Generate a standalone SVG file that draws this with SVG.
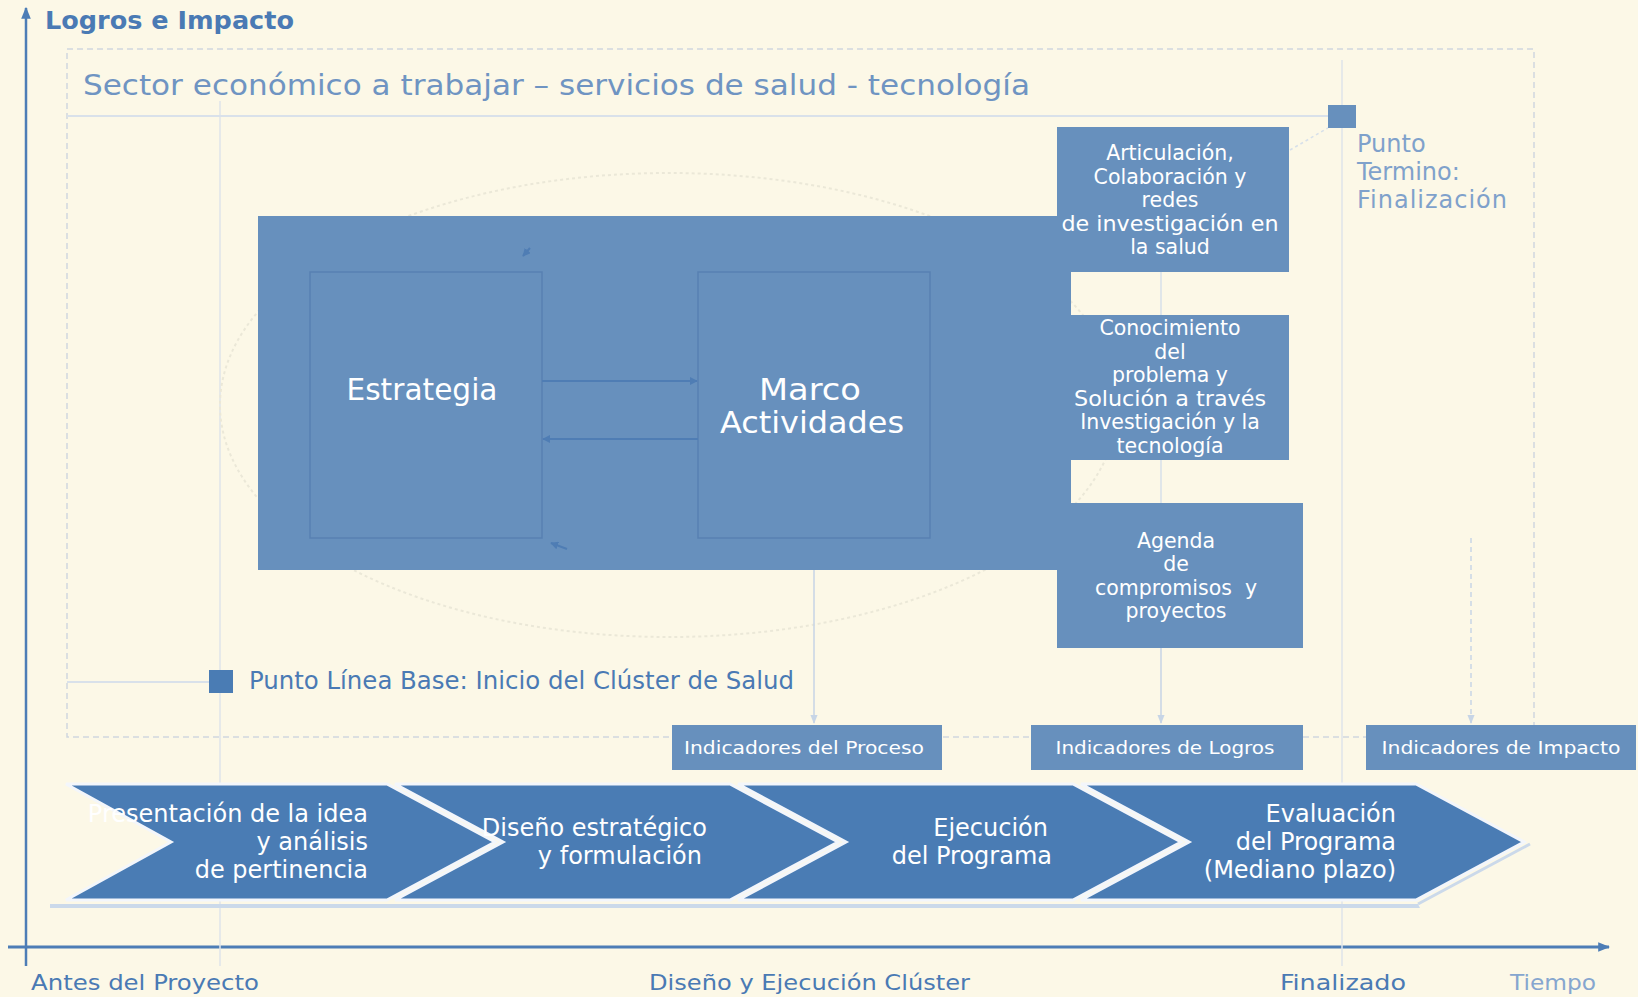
<svg xmlns="http://www.w3.org/2000/svg" width="1638" height="997" viewBox="0 0 1638 997">
<defs>
<style>
.bg{fill:#fcf8e7}
.box{fill:#6790bd}
.inner{fill:#6790bd;stroke:#5880b2;stroke-width:1.5}
.chev{fill:#4a7cb4;stroke:#f3f6fb;stroke-width:3}
.chevsh{fill:#cbd9ea}
.faint{stroke:#dfe4ea;stroke-width:1.5;fill:none}
.gothic{font-family:"DejaVu Sans",Lato,sans-serif}
.tah{font-family:"DejaVu Sans Condensed","DejaVu Sans",sans-serif}
.tahw{font-family:"DejaVu Sans",sans-serif}
.wt{fill:#ffffff}
.btxt{font-size:20.5px;fill:#ffffff;text-anchor:middle}
.ctxt{font-size:24px;fill:#ffffff;text-anchor:end}
.ind{font-size:18px;fill:#ffffff;text-anchor:middle}
.axl{font-size:22px;fill:#4a7ab4}
</style>
<marker id="ah" viewBox="0 0 10 10" refX="9" refY="5" markerWidth="8" markerHeight="8" orient="auto-start-reverse" markerUnits="userSpaceOnUse"><path d="M0,0L10,5L0,10z" fill="#4f7db4"/></marker>
<marker id="al" viewBox="0 0 10 10" refX="9" refY="5" markerWidth="9" markerHeight="9" orient="auto" markerUnits="userSpaceOnUse"><path d="M0,1L10,5L0,9z" fill="#c7d5e6"/></marker>
<marker id="ax" viewBox="0 0 10 10" refX="9" refY="5" markerWidth="12" markerHeight="12" orient="auto" markerUnits="userSpaceOnUse"><path d="M0,1L10,5L0,9z" fill="#4d7db6"/></marker>
</defs>
<rect class="bg" x="0" y="0" width="1638" height="997"/>

<g id="axes">
<line x1="26" y1="966" x2="26" y2="8" stroke="#4d7db6" stroke-width="2.5" marker-end="url(#ax)"/>
<line x1="8" y1="947" x2="1609" y2="947" stroke="#4d7db6" stroke-width="3" marker-end="url(#ax)"/>
<text class="tah" x="45" y="29" font-size="25" font-weight="bold" fill="#4a7ab4" textLength="249" lengthAdjust="spacingAndGlyphs">Logros e Impacto</text>
<text class="tah axl" x="31" y="990" textLength="228" lengthAdjust="spacingAndGlyphs">Antes del Proyecto</text>
<text class="tah axl" x="649" y="990" textLength="321" lengthAdjust="spacingAndGlyphs">Diseño y Ejecución Clúster</text>
<text class="tah axl" x="1280" y="990" textLength="126" lengthAdjust="spacingAndGlyphs">Finalizado</text>
<text class="gothic" x="1510" y="990" font-size="22" fill="#86a6cf" textLength="86" lengthAdjust="spacingAndGlyphs">Tiempo</text>
</g>

<g id="frame">
<rect x="67" y="49" width="1467" height="688" fill="none" stroke="#cfd6df" stroke-width="1.5" stroke-dasharray="6,4"/>
<line class="faint" x1="220" y1="101" x2="220" y2="966"/>
<line class="faint" x1="1342" y1="60" x2="1342" y2="966"/>
<line x1="67" y1="116" x2="1329" y2="116" stroke="#d9e1ea" stroke-width="2"/>
<ellipse cx="669" cy="405" rx="449" ry="232" fill="none" stroke="#ebe8d8" stroke-width="2" stroke-dasharray="3,3"/>
<text class="gothic" x="83" y="95" font-size="28" fill="#6f94c2" textLength="947" lengthAdjust="spacingAndGlyphs">Sector económico a trabajar – servicios de salud - tecnología</text>
</g>

<g id="punto-termino">
<rect x="1328" y="105" width="28" height="23" fill="#6790bd"/>
<text class="gothic" font-size="24" fill="#7fa1cb"><tspan x="1357" y="152">Punto</tspan><tspan x="1357" y="180">Termino:</tspan><tspan x="1357" y="208" textLength="150" lengthAdjust="spacing">Finalización</tspan></text>
</g>

<g id="linea-base">
<line x1="67" y1="682" x2="209" y2="682" stroke="#d9e1ea" stroke-width="2"/>
<rect x="209" y="670" width="24" height="23" fill="#4a7cb4"/>
<text class="tah" x="249" y="689" font-size="24" fill="#4a7ab4" textLength="545" lengthAdjust="spacingAndGlyphs">Punto Línea Base: Inicio del Clúster de Salud</text>
</g>

<g id="marco-grande">
<rect class="box" x="258" y="216" width="813" height="354"/>
</g>

<g id="estrategia">
<rect class="inner" x="310" y="272" width="232" height="266"/>
<text class="gothic wt" x="422" y="400" font-size="30" text-anchor="middle" textLength="151" lengthAdjust="spacingAndGlyphs">Estrategia</text>
</g>

<g id="marco-actividades">
<rect class="inner" x="698" y="272" width="232" height="266"/>
<text class="gothic wt" font-size="30" text-anchor="middle"><tspan x="810" y="400" textLength="102" lengthAdjust="spacingAndGlyphs">Marco</tspan><tspan x="812" y="433" textLength="184" lengthAdjust="spacingAndGlyphs">Actividades</tspan></text>
</g>

<g id="articulacion">
<rect class="box" x="1057" y="127" width="232" height="145"/>
<text class="gothic btxt"><tspan x="1170" y="160">Articulación,</tspan><tspan x="1170" y="184">Colaboración y</tspan><tspan x="1170" y="207">redes</tspan><tspan x="1170" y="231" textLength="217" lengthAdjust="spacingAndGlyphs">de investigación en</tspan><tspan x="1170" y="254">la salud</tspan></text>
</g>

<g id="conocimiento">
<rect class="box" x="1057" y="315" width="232" height="145"/>
<text class="gothic btxt"><tspan x="1170" y="335">Conocimiento</tspan><tspan x="1170" y="359">del</tspan><tspan x="1170" y="382">problema y</tspan><tspan x="1170" y="406" textLength="192" lengthAdjust="spacingAndGlyphs">Solución a través</tspan><tspan x="1170" y="429">Investigación y la</tspan><tspan x="1170" y="453">tecnología</tspan></text>
</g>

<g id="agenda">
<rect class="box" x="1057" y="503" width="246" height="145"/>
<text class="gothic btxt"><tspan x="1176" y="548">Agenda</tspan><tspan x="1176" y="571">de</tspan><tspan x="1176" y="595" xml:space="preserve">compromisos  y</tspan><tspan x="1176" y="618">proyectos</tspan></text>
</g>

<g id="ind-proceso">
<rect class="box" x="672" y="725" width="270" height="45"/>
<text class="gothic ind" x="804" y="754" textLength="240" lengthAdjust="spacingAndGlyphs">Indicadores del Proceso</text>
</g>
<g id="ind-logros">
<rect class="box" x="1031" y="725" width="272" height="45"/>
<text class="gothic ind" x="1165" y="754" textLength="219" lengthAdjust="spacingAndGlyphs">Indicadores de Logros</text>
</g>
<g id="ind-impacto">
<rect class="box" x="1366" y="725" width="270" height="45"/>
<text class="gothic ind" x="1501" y="754" textLength="239" lengthAdjust="spacingAndGlyphs">Indicadores de Impacto</text>
</g>

<g id="connectors">
<line x1="542" y1="381" x2="697" y2="381" stroke="#4f7db4" stroke-width="2" marker-end="url(#ah)"/>
<line x1="698" y1="439" x2="543" y2="439" stroke="#4f7db4" stroke-width="2" marker-end="url(#ah)"/>
<path d="M530,248 L523,256" stroke="#4f7db4" stroke-width="2" fill="none" marker-end="url(#ah)"/>
<path d="M567,549 L551,543" stroke="#4f7db4" stroke-width="2" fill="none" marker-end="url(#ah)"/>
<line x1="814" y1="570" x2="814" y2="723" stroke="#c7d5e6" stroke-width="1.5" marker-end="url(#al)"/>
<line x1="1161" y1="272" x2="1161" y2="315" stroke="#d7e0ea" stroke-width="1.5"/>
<line x1="1161" y1="460" x2="1161" y2="503" stroke="#d7e0ea" stroke-width="1.5"/>
<line x1="1161" y1="648" x2="1161" y2="723" stroke="#c7d5e6" stroke-width="1.5" marker-end="url(#al)"/>
<line x1="1471" y1="538" x2="1471" y2="723" stroke="#c7d5e6" stroke-width="1.5" stroke-dasharray="5,4" marker-end="url(#al)"/>
<line x1="1290" y1="150" x2="1328" y2="128" stroke="#d7e0ea" stroke-width="1.5" stroke-dasharray="3,3"/>
</g>

<g id="chevrons-shadow">
<polygon class="chevsh" points="50,904 1418,904 1420,908 50,908"/>
<line x1="1418" y1="904" x2="1530" y2="844" stroke="#cbd9ea" stroke-width="3"/>
</g>

<g id="fase-1">
<polygon class="chev" points="66,784 387,784 495,842 387,900 66,900 171,842"/>
<text class="tahw ctxt"><tspan x="368" y="822">Presentación de la idea</tspan><tspan x="368" y="850">y análisis</tspan><tspan x="368" y="878">de pertinencia</tspan></text>
</g>
<g id="fase-2">
<polygon class="chev" points="395,784 730,784 838,842 730,900 395,900 503,842"/>
<text class="tahw ctxt"><tspan x="707" y="836">Diseño estratégico</tspan><tspan x="702" y="864">y formulación</tspan></text>
</g>
<g id="fase-3">
<polygon class="chev" points="738,784 1073,784 1181,842 1073,900 738,900 846,842"/>
<text class="tahw ctxt"><tspan x="1048" y="836">Ejecución</tspan><tspan x="1052" y="864">del Programa</tspan></text>
</g>
<g id="fase-4">
<polygon class="chev" points="1081,784 1416,784 1524,842 1416,900 1081,900 1189,842"/>
<text class="tahw ctxt"><tspan x="1396" y="822">Evaluación</tspan><tspan x="1396" y="850">del Programa</tspan><tspan x="1396" y="878">(Mediano plazo)</tspan></text>
</g>
</svg>
